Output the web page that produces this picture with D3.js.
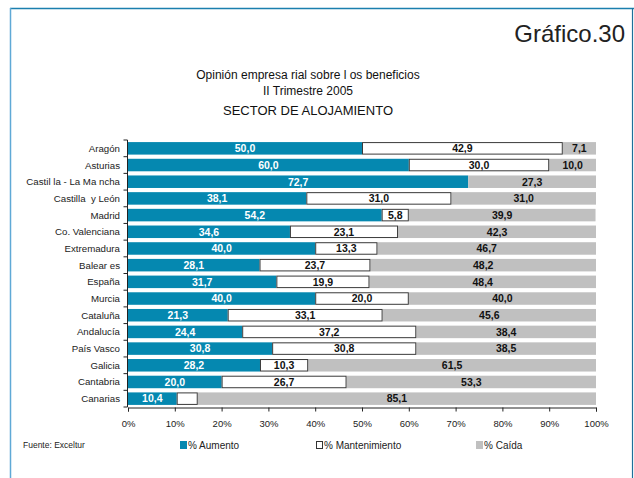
<!DOCTYPE html>
<html>
<head>
<meta charset="utf-8">
<script src="https://cdn.jsdelivr.net/npm/d3@7.9.0/dist/d3.min.js"></script>
<style>
  body { margin: 0; background: #fff; }
  svg { display: block; font-family: 'Liberation Sans', Arial, sans-serif; }
  svg text { white-space: pre; }
</style>
</head>
<body>
<svg id="chart" width="634" height="478"></svg>
<script>
let regions = ['Aragón', 'Asturias', 'Castil la - La Ma ncha', 'Castilla  y León', 'Madrid',
  'Co. Valenciana', 'Extremadura', 'Balear es', 'España', 'Murcia', 'Cataluña',
  'Andalucía', 'País Vasco', 'Galicia', 'Cantabria', 'Canarias'];
let aumento = [50.0, 60.0, 72.7, 38.1, 54.2, 34.6, 40.0, 28.1, 31.7, 40.0, 21.3, 24.4, 30.8, 28.2, 20.0, 10.4];
let mantenimiento = [42.9, 30.0, 0, 31.0, 5.8, 23.1, 13.3, 23.7, 19.9, 20.0, 33.1, 37.2, 30.8, 10.3, 26.7, 4.5];
let caida = [7.1, 10.0, 27.3, 31.0, 39.9, 42.3, 46.7, 48.2, 48.4, 40.0, 45.6, 38.4, 38.5, 61.5, 53.3, 85.1];
let seriesNames = ['% Aumento', '% Mantenimiento', '% Caída'];
let xTicks = [0, 10, 20, 30, 40, 50, 60, 70, 80, 90, 100];

let svg = d3.select('#chart');

// frame
svg.append('line').attr('x1', 10).attr('x2', 634).attr('y1', 8.5).attr('y2', 8.5)
  .attr('stroke', '#1b7fae').attr('stroke-width', 1.5);
svg.append('line').attr('x1', 10.5).attr('x2', 10.5).attr('y1', 8).attr('y2', 478)
  .attr('stroke', '#5fa9d6').attr('stroke-width', 1.5);
svg.append('line').attr('x1', 632.5).attr('x2', 632.5).attr('y1', 8).attr('y2', 478)
  .attr('stroke', '#1f6f9a').attr('stroke-width', 1.2);

svg.append('text').attr('x', 625).attr('y', 42).attr('text-anchor', 'end')
  .attr('font-size', 24).attr('fill', '#222').text('Gráfico.30');

let titles = ['Opinión empresa rial sobre l os beneficios', 'II Trimestre 2005', 'SECTOR DE ALOJAMIENTO'];
let titleY = [79, 95, 115];
let titleSize = [12, 12, 13];
titles.forEach((t, i) => {
  svg.append('text').attr('x', 308).attr('y', titleY[i]).attr('text-anchor', 'middle')
    .attr('font-size', titleSize[i]).attr('fill', '#111').text(t);
});

let x = d3.scaleLinear().domain([0, 100]).range([128, 596]);
let y = d3.scaleBand().domain(regions).range([140, 407]).paddingInner(0.25).paddingOuter(0.125);
let fmt = v => d3.format('.1f')(v).replace('.', ',');

let rows = regions.map((r, i) => ({
  region: r,
  segs: [
    { k: 0, v: aumento[i], x0: 0, x1: aumento[i] },
    { k: 1, v: mantenimiento[i], x0: aumento[i], x1: aumento[i] + mantenimiento[i] },
    { k: 2, v: caida[i], x0: aumento[i] + mantenimiento[i], x1: Math.min(100, aumento[i] + mantenimiento[i] + caida[i]) }
  ]
}));
let fills = ['#0588b0', '#ffffff', '#c0c0c0'];

let g = svg.append('g');
let row = g.selectAll('g.row').data(rows).join('g').attr('class', 'row')
  .attr('transform', d => `translate(0,${y(d.region)})`);

// teal and gray first, outlined white last so its border stays on top
row.selectAll('rect')
  .data(d => d.segs.filter(s => s.v > 0).sort((a, b) => (a.k === 1) - (b.k === 1)))
  .join('rect')
  .attr('x', s => x(s.x0) + (s.k === 1 ? 0.5 : 0))
  .attr('y', s => s.k === 1 ? 0.5 : 0)
  .attr('width', s => x(s.x1) - x(s.x0) - (s.k === 1 ? 1 : 0))
  .attr('height', s => y.bandwidth() - (s.k === 1 ? 1 : 0))
  .attr('fill', s => fills[s.k])
  .attr('stroke', s => s.k === 1 ? '#3a3a3a' : 'none')
  .attr('stroke-width', 1);

row.selectAll('text')
  .data(d => d.segs.filter(s => s.v >= 5))
  .join('text')
  .attr('x', s => (x(s.x0) + x(s.x1)) / 2)
  .attr('y', y.bandwidth() / 2 + 3.8)
  .attr('text-anchor', 'middle')
  .attr('font-size', 10.5)
  .attr('font-weight', 'bold')
  .attr('fill', s => s.k === 0 ? '#fff' : '#111')
  .text(s => fmt(s.v));

// y axis
let yAxis = svg.append('g').attr('transform', 'translate(127.5,0)');
yAxis.append('line').attr('y1', 140).attr('y2', 407).attr('stroke', '#222');
yAxis.selectAll('line.tick')
  .data(d3.range(regions.length + 1))
  .join('line').attr('class', 'tick')
  .attr('x1', -4).attr('x2', 0)
  .attr('y1', i => 140 + i * y.step()).attr('y2', i => 140 + i * y.step())
  .attr('stroke', '#222');
yAxis.selectAll('text')
  .data(regions)
  .join('text')
  .attr('x', -7.5)
  .attr('y', d => y(d) + y.bandwidth() / 2 + 3.5)
  .attr('text-anchor', 'end')
  .attr('font-size', 9.7)
  .attr('fill', '#222')
  .text(d => d);

// x axis
let xAxis = svg.append('g').attr('transform', 'translate(0,407.5)')
  .call(d3.axisBottom(x).tickValues(xTicks).tickSize(4).tickPadding(9).tickFormat(d => d + '%'));
xAxis.select('.domain').attr('stroke', '#222');
xAxis.selectAll('.tick line').attr('stroke', '#222');
xAxis.selectAll('.tick text').attr('font-size', 9.5).attr('fill', '#222')
  .attr('font-family', "'Liberation Sans', Arial, sans-serif");

// source + legend
svg.append('text').attr('x', 23).attr('y', 448).attr('font-size', 8.5).attr('fill', '#222')
  .text('Fuente: Exceltur');

let legX = [180, 316, 476];
let leg = svg.selectAll('g.leg').data(seriesNames).join('g').attr('class', 'leg')
  .attr('transform', (d, i) => `translate(${legX[i]},441)`);
leg.append('rect')
  .attr('x', (d, i) => i === 1 ? 0.5 : 0).attr('y', (d, i) => i === 1 ? 0.5 : 0)
  .attr('width', (d, i) => i === 1 ? 6 : 7).attr('height', (d, i) => i === 1 ? 7 : 8)
  .attr('fill', (d, i) => fills[i])
  .attr('stroke', (d, i) => i === 1 ? '#333' : 'none');
leg.append('text').attr('x', 8).attr('y', 7.5).attr('font-size', 10).attr('fill', '#222')
  .text(d => d);
</script>
</body>
</html>
